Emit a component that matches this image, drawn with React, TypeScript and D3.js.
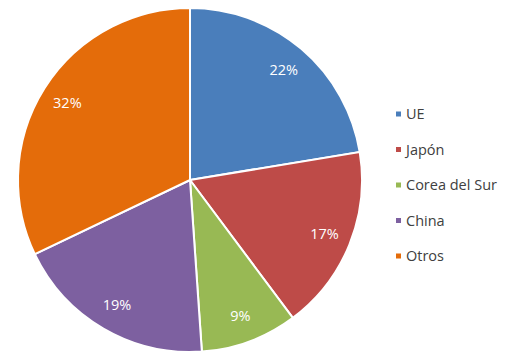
import * as d3 from 'd3';

const categories = ['UE', 'Japón', 'Corea del Sur', 'China', 'Otros'];
const shares = [22.4, 17.4, 9.1, 19.0, 32.1];
const colors = ['#4A7EBB', '#BE4B48', '#98B954', '#7D60A0', '#E46C0A'];

interface Slice {
  name: string;
  value: number;
  color: string;
}

const data: Slice[] = categories.map((name, i) => ({ name, value: shares[i], color: colors[i] }));

export default function App() {
  const width = 513;
  const height = 354;
  const cx = 190;
  const cy = 180;
  const radius = 172;

  const pie = d3.pie<Slice>().value(d => d.value).sort(null);
  const arcs = pie(data);
  const total = d3.sum(data, d => d.value);

  const arc = d3.arc<d3.PieArcDatum<Slice>>().innerRadius(0).outerRadius(radius);
  const labelArc = d3.arc<d3.PieArcDatum<Slice>>().innerRadius(145).outerRadius(145);

  const legend = d3.scalePoint<string>()
    .domain(categories)
    .range([114, 256]);

  return (
    <svg width={width} height={height} style={{ position: 'absolute', left: 0, top: 0 }}
      fontFamily="'Open Sans', sans-serif">
      <rect width={width} height={height} fill="#fff" />
      <g transform={`translate(${cx},${cy})`}>
        {arcs.map(a => (
          <path key={a.data.name} d={arc(a) ?? ''} fill={a.data.color} stroke="#fff" strokeWidth={2} />
        ))}
        {arcs.map(a => {
          const [x, y] = labelArc.centroid(a);
          return (
            <text key={a.data.name} x={x} y={y} dy="0.35em" textAnchor="middle" fill="#fff" fontSize={14.5}>
              {`${Math.round((a.data.value / total) * 100)}%`}
            </text>
          );
        })}
      </g>
      <g>
        {data.map(d => (
          <g key={d.name} transform={`translate(396,${legend(d.name)})`}>
            <rect x={0} y={-2.5} width={5} height={5} fill={d.color} />
            <text x={10} dy="0.35em" fill="#404040" fontSize={14.5}>{d.name}</text>
          </g>
        ))}
      </g>
    </svg>
  );
}
